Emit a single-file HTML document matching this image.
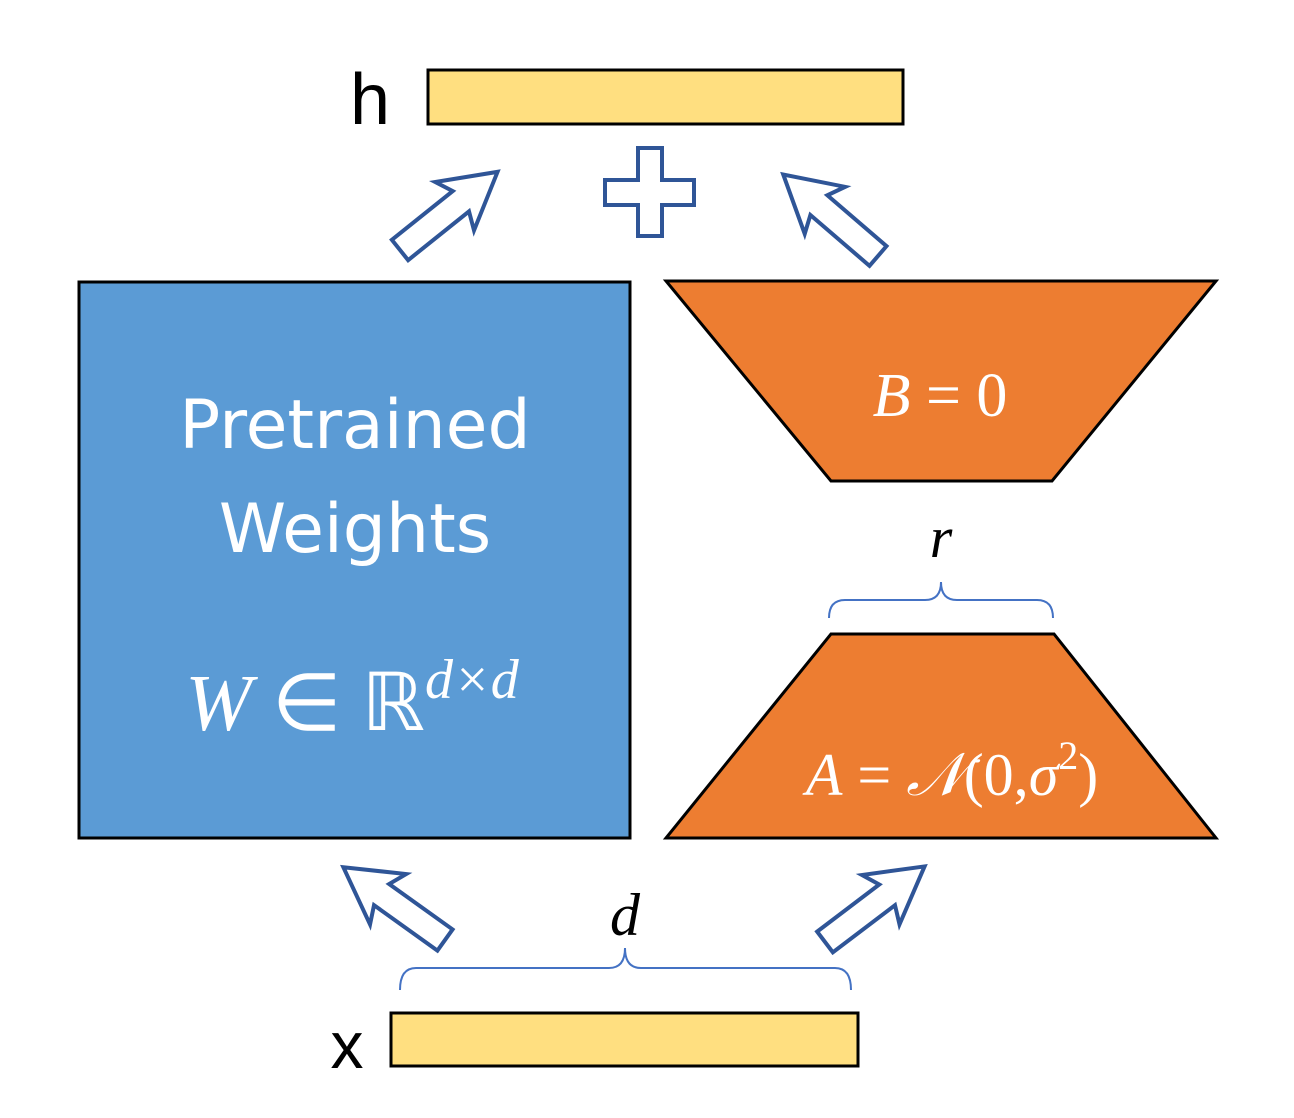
<!DOCTYPE html>
<html><head><meta charset="utf-8"><style>
html,body{margin:0;padding:0;background:#fff;}
svg{display:block;}
</style></head><body>
<svg width="1294" height="1118" viewBox="0 0 1294 1118" xmlns="http://www.w3.org/2000/svg">
<defs>
<polygon id="arr" points="0,-13 78,-13 70,-31 125,0 70,31 78,13 0,13" fill="#fff" stroke="#2F5597" stroke-width="4" stroke-linejoin="miter"/>
</defs>
<!-- h -->
<text x="370" y="124" font-family="Liberation Sans, sans-serif" font-size="72" text-anchor="middle" fill="#000">h</text>
<rect x="428" y="70" width="475" height="54" fill="#FFDF80" stroke="#000" stroke-width="3"/>
<!-- plus -->
<polygon points="638,148 662,148 662,180 694,180 694,205 662,205 662,236 638,236 638,205 605,205 605,180 638,180" fill="#fff" stroke="#2F5597" stroke-width="4"/>
<!-- arrows -->
<use href="#arr" transform="translate(400,250) rotate(-38.7)"/>
<use href="#arr" transform="translate(878,256) rotate(-139.3)"/>
<use href="#arr" transform="translate(445,940) rotate(-144.4)"/>
<use href="#arr" transform="translate(825,942) rotate(-37.2)"/>
<!-- blue -->
<rect x="79" y="282" width="551" height="556" fill="#5B9BD5" stroke="#000" stroke-width="3"/>
<text x="355" y="448" font-family="DejaVu Sans, Liberation Sans, sans-serif" font-size="68" text-anchor="middle" fill="#fff">Pretrained</text>
<text x="355" y="552" font-family="DejaVu Sans, Liberation Sans, sans-serif" font-size="68" text-anchor="middle" fill="#fff">Weights</text>
<text x="352" y="730" font-family="Liberation Serif, serif" font-size="80" text-anchor="middle" fill="#fff"><tspan font-style="italic">W</tspan> ∈ ℝ<tspan font-style="italic" font-size="56" dy="-32">d×d</tspan></text>
<!-- B -->
<polygon points="666,281 1216,281 1052,481 831,481" fill="#ED7D31" stroke="#000" stroke-width="3"/>
<text x="940" y="416" font-family="Liberation Serif, serif" font-size="62" text-anchor="middle" fill="#fff"><tspan font-style="italic">B</tspan> = 0</text>
<!-- r -->
<text x="941" y="557" font-family="Liberation Serif, serif" font-style="italic" font-size="58" text-anchor="middle" fill="#000">r</text>
<path d="M829,618 Q829,600 845,600 L925,600 Q941,600 941,582 Q941,600 957,600 L1037,600 Q1053,600 1053,618" fill="none" stroke="#4472C4" stroke-width="2"/>
<!-- A -->
<polygon points="831,634 1054,634 1216,838 666,838" fill="#ED7D31" stroke="#000" stroke-width="3"/>
<text x="952" y="795" font-family="Liberation Serif, serif" font-size="60" text-anchor="middle" fill="#fff"><tspan font-style="italic">A</tspan> = <tspan font-style="italic">𝒩</tspan>(0,<tspan font-style="italic">σ</tspan><tspan font-size="40" dy="-26">2</tspan><tspan dy="26">)</tspan></text>
<!-- d -->
<text x="625" y="935" font-family="Liberation Serif, serif" font-style="italic" font-size="60" text-anchor="middle" fill="#000">d</text>
<path d="M400,990 Q400,968 416,968 L609,968 Q625,968 625,948 Q625,968 641,968 L835,968 Q851,968 851,990" fill="none" stroke="#4472C4" stroke-width="2"/>
<!-- x -->
<text x="347" y="1068" font-family="Liberation Sans, sans-serif" font-size="66" text-anchor="middle" fill="#000">x</text>
<rect x="391" y="1013" width="467" height="53" fill="#FFDF80" stroke="#000" stroke-width="3"/>
</svg>
</body></html>
